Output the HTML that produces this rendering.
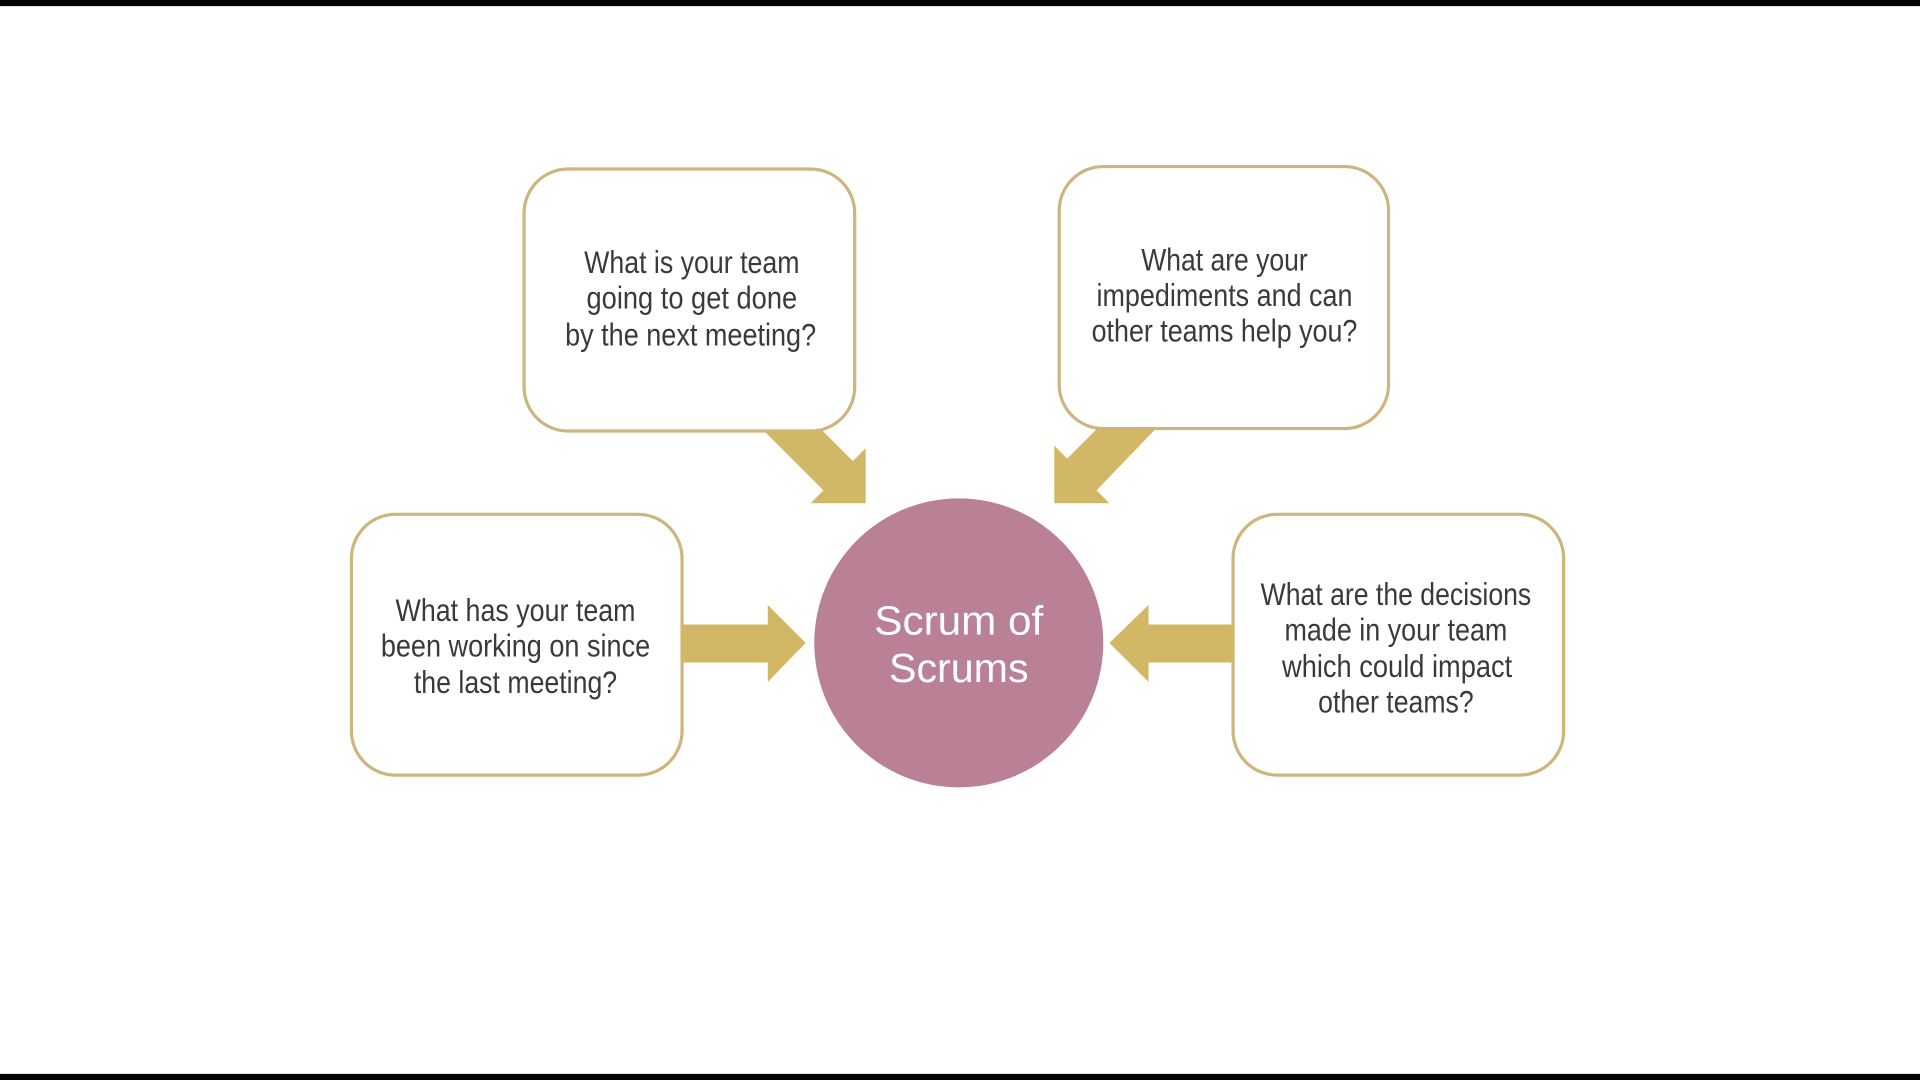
<!DOCTYPE html>
<html><head><meta charset="utf-8"><style>
html,body{margin:0;padding:0;background:#fff;}
svg{display:block;}
.t{font-family:"Liberation Sans Narrow","Liberation Sans",sans-serif;font-size:26px;fill:#3a3a3a;text-anchor:middle;}
.c{font-family:"Liberation Sans",sans-serif;font-size:33px;fill:#fff;text-anchor:middle;}
</style></head><body>
<svg width="1920" height="1080" viewBox="0 0 1568 882" xmlns="http://www.w3.org/2000/svg">
<rect x="0" y="0" width="1568" height="882" fill="#fff"/>
<rect x="0" y="0" width="1568" height="5" fill="#000"/>
<rect x="0" y="877" width="1568" height="5" fill="#000"/>
<g fill="#fff" stroke="#cdb57c" stroke-width="2.6">
<rect x="428" y="138" width="270" height="214" rx="36"/>
<rect x="865" y="136" width="269" height="214" rx="36"/>
<rect x="287" y="420" width="270" height="213" rx="36"/>
<rect x="1007" y="420" width="270" height="213" rx="36"/>
</g>
<g fill="#d2b766">
<polygon points="624,352 672,352 696.5,376.5 707,366 707,411 662,411 672.5,400.5"/>
<polygon points="944,350 896,350 871.5,374.5 861,364 861,411 906,411 895.5,400.5"/>
<polygon points="557,510 627,510 627,494 658,525 627,557 627,541 557,541"/>
<polygon points="1007,510 938,510 938,494 906,525 938,557 938,541 1007,541"/>
</g>
<circle cx="783" cy="525" r="118" fill="#b98096"/>
<text class="c" x="783" y="518" textLength="138" lengthAdjust="spacingAndGlyphs">Scrum of</text>
<text class="c" x="783" y="557" textLength="114" lengthAdjust="spacingAndGlyphs">Scrums</text>
<text class="t" x="565" y="223" textLength="176" lengthAdjust="spacingAndGlyphs">What is your team</text>
<text class="t" x="565" y="252" textLength="172" lengthAdjust="spacingAndGlyphs">going to get done</text>
<text class="t" x="564" y="282" textLength="205" lengthAdjust="spacingAndGlyphs">by the next meeting?</text>
<text class="t" x="1000" y="221" textLength="136" lengthAdjust="spacingAndGlyphs">What are your</text>
<text class="t" x="1000" y="250" textLength="209" lengthAdjust="spacingAndGlyphs">impediments and can</text>
<text class="t" x="1000" y="279" textLength="217" lengthAdjust="spacingAndGlyphs">other teams help you?</text>
<text class="t" x="421" y="507" textLength="196" lengthAdjust="spacingAndGlyphs">What has your team</text>
<text class="t" x="421" y="536" textLength="220" lengthAdjust="spacingAndGlyphs">been working on since</text>
<text class="t" x="421" y="566" textLength="166" lengthAdjust="spacingAndGlyphs">the last meeting?</text>
<text class="t" x="1140" y="494" textLength="221" lengthAdjust="spacingAndGlyphs">What are the decisions</text>
<text class="t" x="1140" y="523" textLength="182" lengthAdjust="spacingAndGlyphs">made in your team</text>
<text class="t" x="1141" y="553" textLength="188" lengthAdjust="spacingAndGlyphs">which could impact</text>
<text class="t" x="1140" y="582" textLength="127" lengthAdjust="spacingAndGlyphs">other teams?</text>
</svg>
</body></html>
